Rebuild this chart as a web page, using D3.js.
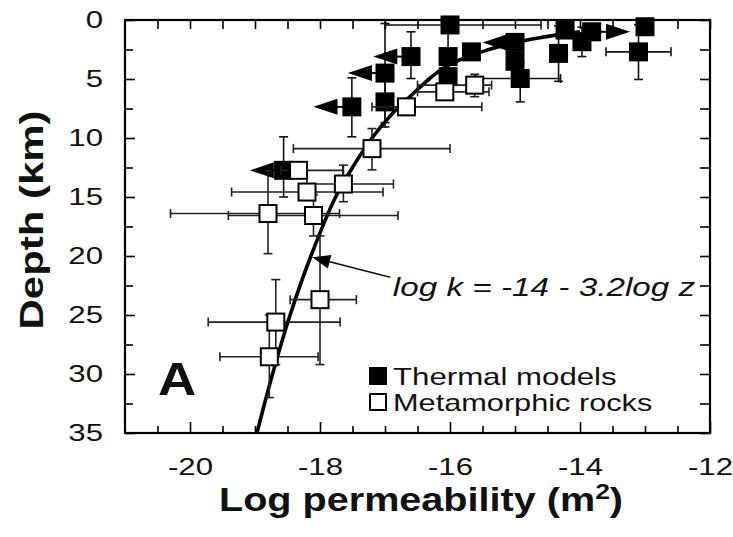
<!DOCTYPE html>
<html><head><meta charset="utf-8">
<script src="https://cdn.jsdelivr.net/npm/d3@7"></script>
<style>body{margin:0;background:#fff}</style>
</head><body>
<svg id="chart" width="733" height="537"></svg>
<script>
// ---------- data ----------
// Thermal models (filled squares): log permeability, depth (km), error bars, arrow tips (bounds)
const thermalLogk  = [-16.0, -16.6, -16.03, -15.67, -17.0, -17.51, -17.0, -16.03, -15.0, -15.0, -14.92, -14.33, -14.23, -13.82, -13.97, -13.0, -13.1, -18.56];
const thermalDepth = [0.42, 3.1, 3.1, 2.7, 4.5, 7.36, 6.94, 4.8, 1.9, 3.5, 4.96, 2.83, 0.85, 1.0, 1.84, 0.57, 2.7, 12.74];
const thermalXLo   = [-17.0, null, null, null, null, null, null, null, null, null, -15.6, null, null, null, null, null, -13.6, null];
const thermalXHi   = [-14.6, null, null, null, null, null, null, null, null, null, -14.3, null, null, null, null, null, -12.6, null];
const thermalYLo   = [null, 1.0, 1.0, null, 0.3, 4.9, 4.8, null, null, null, 3.6, 0.5, null, null, 0.6, null, 0.4, 9.9];
const thermalYHi   = [null, 4.96, 4.8, null, 8.7, 9.9, 9.07, null, null, null, 6.94, 5.2, null, null, 3.1, null, 5.04, 15.0];
const thermalArrow = [null, -17.18, null, null, -17.57, -18.1, null, null, -15.5, null, null, null, null, -13.23, null, null, null, -19.08];

// Metamorphic rocks (open squares)
const metaLogk  = [-15.62, -16.08, -16.67, -17.2, -18.33, -17.64, -18.2, -18.8, -18.1, -18.0, -18.68, -18.78];
const metaDepth = [5.52, 6.09, 7.36, 10.9, 12.74, 13.9, 14.58, 16.4, 16.57, 23.7, 25.6, 28.54];
const metaXLo   = [-16.5, -16.5, -17.2, -18.41, -18.6, -18.2, -19.36, -20.3, -19.41, -18.46, -19.72, -19.54];
const metaXHi   = [-15.36, -15.4, -15.51, -16.0, -17.65, -16.87, -17.03, -17.7, -16.8, -17.44, -17.69, -18.03];
const metaYLo   = [4.6, null, null, 9.2, null, 12.3, null, 12.8, 14.8, 18.3, 22.0, 25.0];
const metaYHi   = [6.5, null, null, 12.7, null, 15.4, null, 19.8, 18.3, 29.2, 29.2, 32.0];

// Fit curve: log k = -14 - 3.2 log z
const fitDepth = [1, 1.25, 1.5, 2, 2.5, 3, 4, 5, 6, 8, 10, 12.5, 15, 20, 25, 30, 35];
const fitLogk  = [-14.0, -14.33, -14.62, -15.07, -15.4, -15.68, -16.08, -16.32, -16.52, -16.9, -17.2, -17.5, -17.76, -18.14, -18.46, -18.73, -18.97];

// Axes
const xTickLabels = [-20, -18, -16, -14, -12];
const xMinorTicks = [-20.5, -19.5, -19, -18.5, -17.5, -17, -16.5, -15.5, -15, -14.5, -13.5, -13, -12.5];
const yTickLabels = [0, 5, 10, 15, 20, 25, 30, 35];
const yMinorTicks = [2.5, 7.5, 12.5, 17.5, 22.5, 27.5, 32.5];

// annotation
const fitLabel = "log k = -14 - 3.2log z";
const annTip = [-18.12, 20.1];
const annStart = [-16.92, 21.8];
const annText = [-16.88, 23.36];

// ---------- chart ----------
const FONT = "'Liberation Sans', Arial, Helvetica, sans-serif";
const SX = 1.3;
const svg = d3.select("#chart");
const x = d3.scaleLinear().domain([-21, -12]).range([125, 710]);
const y = d3.scaleLinear().domain([0, 35]).range([20, 433]);

function styleAxis(g) {
  g.select(".domain").remove();
  g.selectAll("line").attr("stroke", "#000").attr("stroke-width", 1.6);
  g.selectAll("text").attr("fill", "#111").style("font-family", FONT).style("font-size", "24px");
}

// bottom labeled
svg.append("g").attr("transform", "translate(0,433)")
  .call(d3.axisBottom(x).tickValues(xTickLabels).tickSize(-11).tickPadding(25).tickFormat(d => String(d)))
  .call(styleAxis)
  .call(g => g.selectAll("text").attr("transform", `scale(${SX},1)`));
svg.append("g").attr("transform", "translate(0,433)")
  .call(d3.axisBottom(x).tickValues(xMinorTicks).tickSize(-7).tickFormat(""))
  .call(styleAxis);
// top
svg.append("g").attr("transform", "translate(0,20)")
  .call(d3.axisTop(x).tickValues(xTickLabels.concat(xMinorTicks)).tickSize(-9).tickFormat(""))
  .call(styleAxis);
// left labeled
svg.append("g").attr("transform", "translate(125,0)")
  .call(d3.axisLeft(y).tickValues(yTickLabels).tickSize(-10).tickPadding(22).tickFormat(d => String(d)))
  .call(styleAxis)
  .call(g => g.selectAll("text").attr("x", -22 / SX).attr("transform", `scale(${SX},1)`));
svg.append("g").attr("transform", "translate(125,0)")
  .call(d3.axisLeft(y).tickValues(yMinorTicks).tickSize(-8).tickFormat(""))
  .call(styleAxis);
// right
svg.append("g").attr("transform", "translate(710,0)")
  .call(d3.axisRight(y).tickValues(yTickLabels.concat(yMinorTicks)).tickSize(-10).tickFormat(""))
  .call(styleAxis);

// frame
svg.append("rect").attr("x", 125).attr("y", 20).attr("width", 585).attr("height", 413)
  .attr("fill", "none").attr("stroke", "#000").attr("stroke-width", 2.2);

// error bar helper
const CAP = 4.5;
function errorBars(g, X, D, XLo, XHi, YLo, YHi) {
  X.forEach((v, i) => {
    const cx = x(v), cy = y(D[i]);
    if (XLo[i] != null) {
      g.append("line").attr("x1", x(XLo[i])).attr("x2", x(XHi[i])).attr("y1", cy).attr("y2", cy);
      [XLo[i], XHi[i]].forEach(e => g.append("line").attr("x1", x(e)).attr("x2", x(e)).attr("y1", cy - CAP).attr("y2", cy + CAP));
    }
    if (YLo[i] != null) {
      g.append("line").attr("x1", cx).attr("x2", cx).attr("y1", y(YLo[i])).attr("y2", y(YHi[i]));
      [YLo[i], YHi[i]].forEach(e => g.append("line").attr("x1", cx - CAP).attr("x2", cx + CAP).attr("y1", y(e)).attr("y2", y(e)));
    }
  });
}

const gTE = svg.append("g").attr("stroke", "#111").attr("stroke-width", 1.6);
errorBars(gTE, thermalLogk, thermalDepth, thermalXLo, thermalXHi, thermalYLo, thermalYHi);

// bound arrows
const gArr = svg.append("g");
thermalLogk.forEach((v, i) => {
  if (thermalArrow[i] == null) return;
  const cx = x(v), cy = y(thermalDepth[i]), tx = x(thermalArrow[i]);
  const dir = tx < cx ? 1 : -1; // base is toward square
  gArr.append("line").attr("x1", cx).attr("x2", tx + dir * 10).attr("y1", cy).attr("y2", cy)
    .attr("stroke", "#000").attr("stroke-width", 2);
  gArr.append("path")
    .attr("d", `M${tx},${cy} L${tx + dir * 24},${cy - 8} L${tx + dir * 24},${cy + 8} Z`)
    .attr("fill", "#000");
});

// thermal squares
const TS = 19;
svg.append("g").selectAll("rect").data(thermalLogk).join("rect")
  .attr("x", d => x(d) - TS / 2).attr("y", (d, i) => y(thermalDepth[i]) - TS / 2)
  .attr("width", TS).attr("height", TS).attr("fill", "#000");

// fit line
svg.append("path").datum(fitDepth.map((d, i) => [fitLogk[i], d]))
  .attr("d", d3.line().x(d => x(d[0])).y(d => y(d[1])).curve(d3.curveCatmullRom))
  .attr("fill", "none").attr("stroke", "#000").attr("stroke-width", 3.6);

// metamorphic error bars + squares
const gME = svg.append("g").attr("stroke", "#222").attr("stroke-width", 1.6);
errorBars(gME, metaLogk, metaDepth, metaXLo, metaXHi, metaYLo, metaYHi);
const MS = 17;
svg.append("g").selectAll("rect").data(metaLogk).join("rect")
  .attr("x", d => x(d) - MS / 2).attr("y", (d, i) => y(metaDepth[i]) - MS / 2)
  .attr("width", MS).attr("height", MS).attr("fill", "#fff").attr("stroke", "#000").attr("stroke-width", 2);

// annotation
const tip = [x(annTip[0]), y(annTip[1])], st = [x(annStart[0]), y(annStart[1])];
const ang = Math.atan2(tip[1] - st[1], tip[0] - st[0]);
const hl = 18, hw = 7;
const bx = tip[0] - hl * Math.cos(ang), by = tip[1] - hl * Math.sin(ang);
svg.append("line").attr("x1", st[0]).attr("y1", st[1]).attr("x2", bx).attr("y2", by)
  .attr("stroke", "#111").attr("stroke-width", 1.6);
svg.append("path").attr("d",
  `M${tip[0]},${tip[1]} L${bx + hw * Math.sin(ang)},${by - hw * Math.cos(ang)} L${bx - hw * Math.sin(ang)},${by + hw * Math.cos(ang)} Z`)
  .attr("fill", "#000");

function stext(str, px, py, size, opts = {}) {
  return svg.append("text").attr("transform", `translate(${px},${py}) ${opts.rot ? "rotate(-90)" : ""} scale(${opts.sx || SX},1)`)
    .attr("text-anchor", opts.anchor || "start")
    .style("font-family", FONT).style("font-size", size + "px")
    .style("font-weight", opts.bold ? "bold" : "normal")
    .style("font-style", opts.italic ? "italic" : "normal")
    .attr("fill", "#111").text(str);
}
stext(fitLabel, x(annText[0]), y(annText[1]), 26, { italic: true, sx: 1.28 });

// panel letter
stext("A", 177, 395, 46, { bold: true, anchor: "middle", sx: 1.15 });

// legend
svg.append("rect").attr("x", 369).attr("y", 367).attr("width", 18).attr("height", 18).attr("fill", "#000");
svg.append("rect").attr("x", 370).attr("y", 394).attr("width", 16).attr("height", 16)
  .attr("fill", "#fff").attr("stroke", "#000").attr("stroke-width", 2);
stext("Thermal models", 393, 385, 24, { sx: 1.3 });
stext("Metamorphic rocks", 393, 411, 24, { sx: 1.28 });

// axis titles
const xt = stext("Log permeability (m", 421, 511, 33, { bold: true, anchor: "middle", sx: 1.2 });
xt.append("tspan").attr("dy", -12).style("font-size", "22px").text("2");
xt.append("tspan").attr("dy", 12).text(")");
stext("Depth (km)", 43, 220, 33, { bold: true, anchor: "middle", rot: true, sx: 1.27 });
</script>
</body></html>
